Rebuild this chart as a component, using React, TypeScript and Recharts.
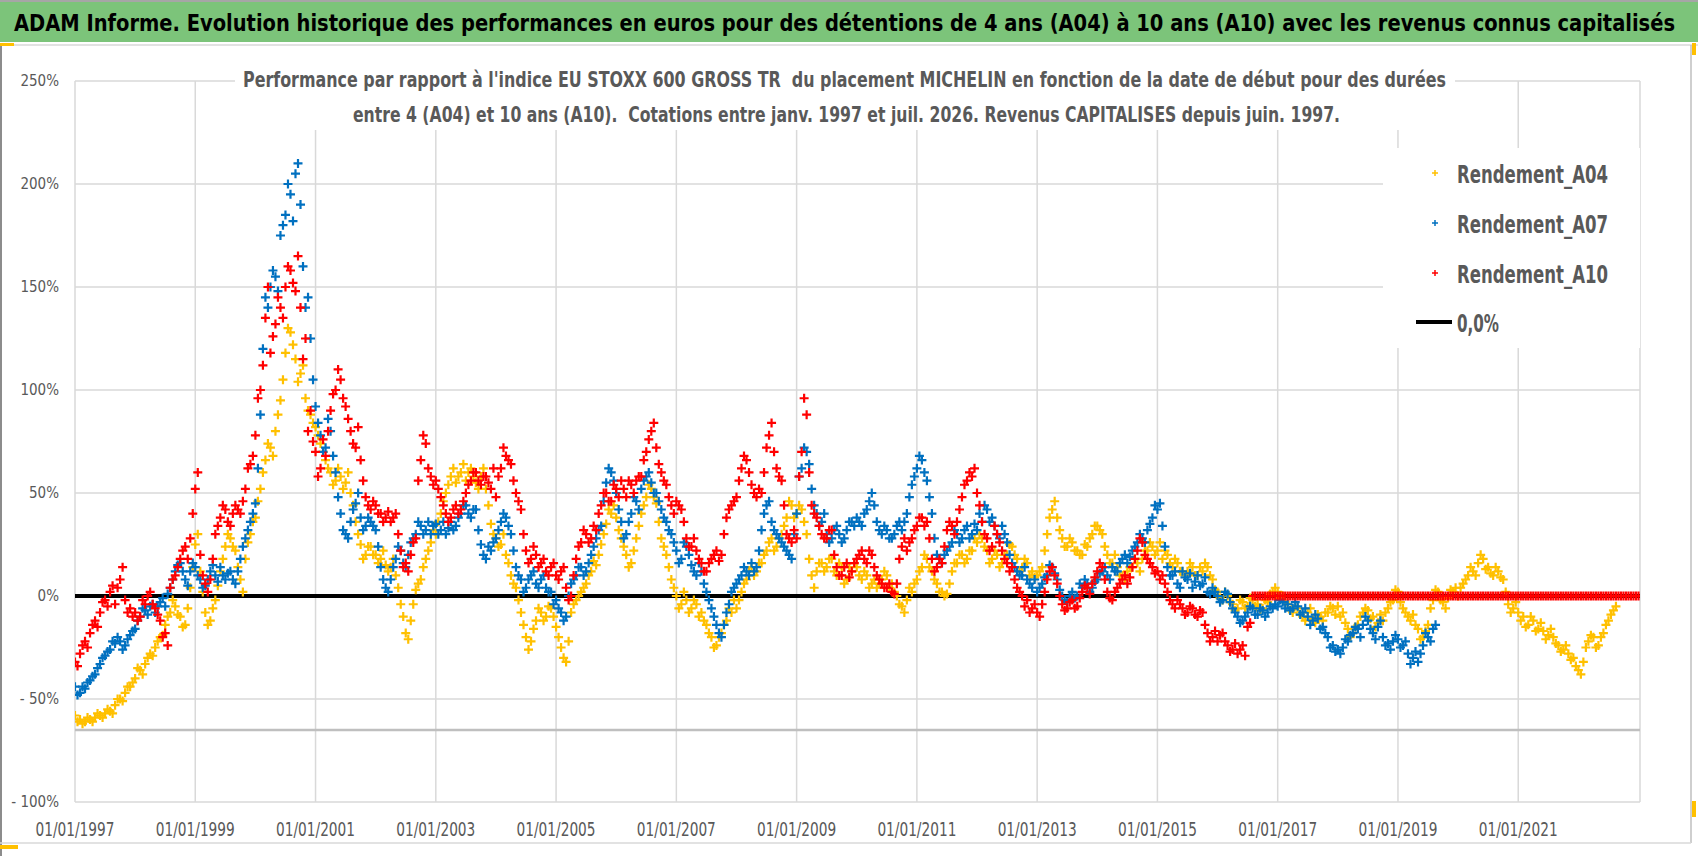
import React from 'react'
import { ComposedChart, Scatter, Line, XAxis, YAxis, CartesianGrid, ReferenceLine, Legend } from 'recharts'

// months counted from 01/01/1997 ; performance in %
// "a" arrays: reading at the start of each month, "b" arrays: reading at mid-month
const FIRST_YEAR = 1997

const a04: number[] = [
  -58, -60, -61, -60, -59, -58, -57, -56, -53, -50, -47, -44,
  -40, -36, -33, -28, -25, -20, -14, -8, -5, -10, -14, 4,
  25, 12, -8, -12, -2, 12, 24, 28, 22, 8, 18, 30,
  38, 52, 66, 72, 80, 95, 118, 128, 115, 108, 96, 88,
  82, 74, 66, 60, 56, 58, 55, 50, 36, 25, 20, 24,
  20, 18, 15, 14, 10, -4, -18, -12, 3, 8, 18, 26,
  30, 40, 50, 58, 55, 60, 56, 62, 55, 58, 52, 35,
  28, 25, 20, 10, 4, -8, -20, -22, -12, -8, -10, -6,
  -15, -25, -32, -8, -2, 2, 6, 12, 15, 25, 35, 40,
  38, 28, 20, 16, 28, 40, 48, 52, 45, 28, 20, 8,
  0, -4, -2, -6, -4, -8, -14, -20, -24, -18, -12, -8,
  -6, 2, 8, 14, 12, 16, 22, 28, 24, 30, 38, 44,
  40, 42, 30, 10, 12, 16, 14, 18, 10, 14, 8, 12,
  14, 8, 10, 6, 4, 8, 10, 6, 0, -5, -2, 2,
  8, 14, 18, 12, 6, 2, 1, 12, 16, 20, 18, 22,
  26, 28, 22, 18, 20, 16, 20, 24, 18, 14, 16, 12,
  10, 14, 30, 42, 38, 28, 24, 26, 22, 20, 24, 30,
  34, 30, 20, 16, 14, 10, 12, 14, 16, 18, 22, 24,
  22, 18, 20, 14, 16, 12, 12, 14, 10, 12, 14, 8,
  2, -2, 0, -4, -6, -3, -5, -2, -4, -6, -3, 2,
  2, 0, -4, -8, -6, -10, -8, -11, -9, -12, -8, -6,
  -5, -8, -16, -18, -14, -8, -7, -10, -13, -12, -6, -2,
  2, -6, -10, -9, -16, -20, -14, -2, 2, -3, -1, 2,
  0, 6, 10, 12, 16, 18, 14, 10, 12, 8, -4, -6,
  -8, -10, -14, -12, -16, -17, -19, -20, -24, -26, -28, -30,
  -36, -32, -22, -20, -24, -18, -12, -7,
]

const a04b: number[] = [
  -61, -62, -59, -61, -57, -59, -55, -57, -50, -51, -44, -42,
  -35, -38, -30, -29, -22, -19, -10, -2, -9, -15, -6, 14,
  30, 2, -14, -6, 5, 18, 30, 24, 14, 2, 26, 36,
  46, 60, 74, 68, 88, 105, 130, 122, 104, 112, 90, 84,
  78, 70, 62, 54, 62, 52, 60, 44, 30, 18, 24, 20,
  16, 22, 12, 18, 4, -10, -21, -4, 6, 14, 22, 32,
  36, 46, 54, 62, 58, 64, 60, 58, 52, 62, 44, 30,
  24, 30, 16, 6, -2, -14, -26, -16, -6, -12, -5, -10,
  -20, -30, -22, -4, 0, 4, 10, 17, 20, 30, 42, 44,
  32, 24, 14, 22, 34, 44, 54, 48, 36, 24, 14, 4,
  -6, 2, -8, -2, -10, -12, -18, -25, -20, -14, -6, -2,
  -2, 6, 12, 10, 16, 20, 26, 22, 28, 34, 46, 38,
  44, 36, 18, 4, 16, 12, 18, 12, 16, 6, 14, 16,
  10, 12, 4, 8, 6, 12, 4, 2, -4, -8, 4, 6,
  12, 20, 14, 8, 2, 0, 6, 16, 20, 16, 22, 28,
  30, 24, 16, 22, 14, 20, 25, 20, 12, 18, 10, 9,
  12, 22, 38, 46, 32, 24, 28, 22, 20, 25, 28, 34,
  32, 24, 16, 20, 10, 8, 14, 18, 12, 22, 26, 20,
  26, 22, 16, 18, 12, 10, 16, 10, 14, 16, 10, 3,
  -1, 2, -3, -7, -2, -6, -1, -5, -7, -2, 1, 4,
  -1, -3, -7, -5, -9, -12, -6, -13, -10, -8, -5, -9,
  -10, -13, -20, -15, -10, -6, -11, -15, -9, -8, -3, 3,
  -3, -8, -12, -14, -21, -17, -6, 3, -2, -6, 3, 4,
  4, 8, 14, 10, 20, 13, 11, 14, 9, 2, -8, -3,
  -12, -15, -10, -17, -13, -21, -16, -23, -27, -24, -31, -34,
  -38, -25, -19, -25, -20, -14, -9, -5,
]

const a07: number[] = [
  -44, -47, -45, -41, -38, -33, -29, -26, -23, -22, -24, -19,
  -16, -10, -7, -5, -8, -3, -5, 4, 12, 16, 8, 12,
  14, 8, 5, 12, 10, 14, 8, 12, 6, 18, 28, 36,
  45, 88, 145, 150, 155, 175, 185, 195, 205, 190, 140, 125,
  92, 78, 72, 80, 60, 40, 30, 36, 45, 38, 34, 36,
  32, 14, 4, 8, 18, 22, 14, 26, 30, 34, 32, 30,
  35, 32, 30, 36, 34, 40, 44, 38, 42, 25, 18, 22,
  28, 36, 38, 30, 14, 8, 4, 10, 6, 8, 4, 2,
  -2, -8, -10, 6, 10, 14, 12, 20, 28, 34, 55, 60,
  50, 36, 30, 40, 46, 52, 58, 55, 50, 42, 36, 30,
  22, 18, 24, 15, 10, 12, 2, -6, -14, -20, -8, 2,
  6, 10, 12, 16, 14, 32, 44, 36, 30, 26, 22, 18,
  40, 62, 70, 52, 40, 36, 30, 28, 34, 26, 32, 36,
  38, 34, 42, 50, 36, 30, 32, 28, 34, 32, 40, 54,
  62, 66, 56, 40, 20, 16, 22, 26, 30, 28, 34, 30,
  32, 36, 42, 38, 30, 34, 26, 16, 12, 10, 8, 4,
  2, 6, 10, 14, 8, 0, -3, 2, 0, 4, 6, 4,
  8, 12, 10, 14, 12, 18, 16, 22, 26, 28, 32, 38,
  42, 34, 14, 10, 6, 12, 8, 4, 10, 6, 2, 4,
  0, -2, 1, -6, -10, -12, -8, -6, -9, -7, -8, -6,
  -5, -3, -4, -6, -5, -8, -10, -12, -11, -15, -20, -24,
  -26, -25, -22, -18, -16, -14, -12, -18, -15, -20, -23, -22,
  -21, -24, -28, -30, -32, -24, -20, -16,
]

const a07b: number[] = [
  -48, -44, -42, -39, -35, -30, -27, -22, -20, -26, -21, -17,
  -12, -6, -9, -4, -5, -1, 1, 8, 15, 12, 5, 16,
  10, 4, 8, 15, 7, 10, 11, 8, 12, 24, 32, 40,
  62, 120, 140, 158, 148, 180, 200, 182, 210, 160, 145, 105,
  84, 70, 86, 68, 48, 32, 28, 42, 50, 32, 38, 34,
  24, 8, 2, 14, 24, 16, 20, 28, 36, 30, 36, 34,
  30, 36, 33, 32, 38, 44, 40, 42, 32, 20, 24, 26,
  32, 40, 34, 22, 10, 2, 8, 12, 4, 10, 2, -4,
  -6, -12, 0, 8, 14, 10, 16, 24, 32, 46, 62, 56,
  42, 28, 36, 48, 42, 56, 60, 50, 46, 38, 32, 26,
  16, 26, 20, 12, 16, 6, -2, -10, -18, -14, -4, 4,
  8, 14, 10, 12, 22, 40, 46, 32, 28, 24, 20, 30,
  58, 72, 64, 44, 34, 40, 26, 32, 30, 28, 36, 34,
  36, 40, 46, 44, 32, 34, 28, 30, 36, 36, 48, 58,
  68, 60, 48, 28, 18, 20, 24, 32, 26, 32, 28, 35,
  40, 44, 36, 34, 28, 30, 20, 14, 10, 14, 6, 8,
  4, 9, 15, 11, 3, -2, 0, -1, 6, 8, 2, 7,
  11, 14, 8, 12, 16, 20, 19, 24, 30, 26, 35, 44,
  45, 24, 10, 12, 4, 9, 11, 7, 5, 9, 1, 2,
  -3, 2, -3, -8, -13, -10, -5, -9, -6, -10, -5, -4,
  -2, -6, -7, -3, -9, -6, -14, -9, -16, -18, -25, -27,
  -28, -21, -19, -15, -20, -10, -16, -21, -12, -24, -26, -19,
  -25, -22, -33, -27, -28, -18, -22, -14,
]

const a10: number[] = [
  -32, -28, -22, -18, -12, -8, -2, 2, -4, 8, -2, -6,
  -8, -10, -4, 2, -6, -12, -18, 4, 10, 18, 24, 28,
  52, 20, 6, 8, 30, 38, 42, 34, 44, 40, 52, 64,
  78, 100, 135, 118, 132, 140, 150, 158, 148, 140, 125, 90,
  70, 62, 68, 90, 100, 105, 92, 80, 72, 66, 48, 42,
  44, 40, 38, 36, 40, 22, 16, 20, 28, 66, 74, 58,
  56, 48, 40, 38, 44, 42, 50, 56, 60, 54, 58, 52,
  48, 62, 68, 64, 50, 42, 22, 18, 20, 16, 12, 14,
  10, 12, 4, 0, 18, 26, 30, 28, 32, 44, 50, 46,
  52, 56, 48, 54, 56, 58, 70, 80, 72, 60, 54, 44,
  46, 42, 28, 24, 22, 16, 12, 18, 22, 20, 38, 44,
  48, 62, 66, 54, 48, 50, 72, 84, 62, 56, 30, 26,
  28, 70, 88, 44, 38, 30, 28, 32, 14, 10, 16, 12,
  18, 22, 16, 20, 10, 6, 4, 2, 6, 24, 22, 28,
  34, 38, 36, 18, 14, 16, 32, 34, 36, 48, 56, 58,
  50, 36, 28, 24, 30, 22, 16, 14, 4, 0, -2, -6,
  -8, -4, 8, 14, 6, -4, -6, -2, -5, 2, 4, 6,
  12, 14, 2, -2, 4, 8, 6, 14, 22, 26, 18, 14,
  12, 10, 2, -4, -2, -6, -8, -6, -10, -8, -18, -20,
  -22, -18, -24, -26, -28, -24, -15, 0, 0, 0, 0, 0,
  0, 0, 0, 0, 0, 0, 0, 0, 0, 0, 0, 0,
  0, 0, 0, 0, 0, 0, 0, 0, 0, 0, 0, 0,
  0, 0, 0, 0, 0, 0, 0, 0, 0, 0, 0, 0,
  0, 0, 0, 0, 0, 0, 0, 0, 0, 0, 0, 0,
  0, 0, 0, 0, 0, 0, 0, 0, 0, 0, 0, 0,
  0, 0, 0, 0, 0, 0, 0, 0, 0, 0, 0, 0,
  0,
]

const a10b: number[] = [
  -34, -24, -25, -14, -15, -3, -5, 5, 4, 14, -8, -10,
  -12, -2, 0, -4, -9, -20, -24, 8, 14, 22, 18, 40,
  60, 10, 2, 18, 34, 44, 36, 40, 42, 46, 62, 68,
  96, 112, 150, 126, 145, 135, 160, 152, 165, 115, 80, 75,
  58, 76, 80, 98, 110, 96, 86, 74, 82, 56, 44, 46,
  40, 36, 41, 38, 30, 14, 12, 26, 56, 78, 62, 54,
  52, 44, 36, 42, 40, 46, 54, 60, 56, 58, 55, 62,
  58, 72, 66, 56, 46, 30, 16, 24, 14, 18, 10, 16,
  8, 14, -2, 10, 24, 32, 26, 34, 40, 50, 46, 54,
  48, 52, 56, 50, 58, 66, 76, 84, 64, 56, 48, 40,
  44, 36, 24, 28, 18, 12, 16, 20, 17, 30, 42, 46,
  56, 68, 60, 50, 52, 60, 78, 70, 58, 44, 28, 32,
  58, 96, 60, 40, 34, 28, 32, 20, 10, 14, 9, 16,
  20, 18, 22, 14, 8, 4, 6, 1, 18, 28, 26, 32,
  38, 34, 28, 12, 18, 24, 36, 30, 42, 54, 60, 62,
  44, 30, 22, 34, 26, 18, 12, 8, 2, -5, -8, -4,
  -10, 2, 12, 10, 0, -7, -3, -6, -1, 5, 1, 9,
  16, 8, -1, 2, 6, 10, 9, 18, 28, 20, 16, 11,
  8, 6, -2, -6, -4, -9, -5, -9, -7, -14, -22, -17,
  -19, -22, -27, -23, -26, -29, -13, 0, 0, 0, 0, 0,
  0, 0, 0, 0, 0, 0, 0, 0, 0, 0, 0, 0,
  0, 0, 0, 0, 0, 0, 0, 0, 0, 0, 0, 0,
  0, 0, 0, 0, 0, 0, 0, 0, 0, 0, 0, 0,
  0, 0, 0, 0, 0, 0, 0, 0, 0, 0, 0, 0,
  0, 0, 0, 0, 0, 0, 0, 0, 0, 0, 0, 0,
  0, 0, 0, 0, 0, 0, 0, 0, 0, 0, 0, 0,
]

const X_END = 312.3
const xTicks = [0, 24, 48, 72, 96, 120, 144, 168, 192, 216, 240, 264, 288]
const yTicks = [-100, -50, 0, 50, 100, 150, 200, 250]

const TITLE = 'ADAM Informe. Evolution historique des performances en euros pour des détentions de 4 ans (A04) à 10 ans (A10) avec les revenus connus capitalisés'
const SUB1 = "Performance par rapport à l'indice EU STOXX 600 GROSS TR  du placement MICHELIN en fonction de la date de début pour des durées"
const SUB2 = 'entre 4 (A04) et 10 ans (A10).  Cotations entre janv. 1997 et juil. 2026. Revenus CAPITALISES depuis juin. 1997.'

const series = [
  { name: 'Rendement_A04', color: '#FFC000', start: a04, mid: a04b },
  { name: 'Rendement_A07', color: '#0070C0', start: a07, mid: a07b },
  { name: 'Rendement_A10', color: '#FF0000', start: a10, mid: a10b },
]

const zeroLine = [{ m: 0, v: 0 }, { m: X_END, v: 0 }]

const FONT = "'Liberation Sans Narrow', 'DejaVu Sans Condensed', 'Liberation Sans', sans-serif"
const GREY_TEXT = '#595959'

const toPoints = (start: number[], mid: number[]) => [
  ...start.map((v, m) => ({ m, v })),
  ...mid.map((v, m) => ({ m: m + 0.5, v })),
]

const fmtPct = (v: number) => (v < 0 ? `- ${-v}%` : `${v}%`)

const makeCross = (color: string) => (props: any) => {
  const { cx, cy } = props
  if (cx == null || cy == null) return <g />
  return <path d={`M${cx - 4.5},${cy}h9M${cx},${cy - 4.5}v9`} stroke={color} strokeWidth={2.2} fill='none' />
}

const XTick = ({ x, payload }: any) => (
  <text x={x} y={836} textAnchor='middle' fontSize={20} fill={GREY_TEXT} fontFamily={FONT}
    textLength={79} lengthAdjust='spacingAndGlyphs'>
    {`01/01/${FIRST_YEAR + payload.value / 12}`}
  </text>
)

const YTick = ({ y, payload }: any) => (
  <text x={59} y={y} dy={5} textAnchor='end' fontSize={15} fill={GREY_TEXT} fontFamily={FONT}>
    {fmtPct(payload.value)}
  </text>
)

function LegendBox() {
  const rows = [25, 75, 125]
  return (
    <svg width={310} height={200} style={{ display: 'block' }}>
      <rect x={0} y={0} width={257} height={200} fill='#fff' />
      {series.map((s, i) => (
        <g key={s.name}>
          <path d={`M${49},${rows[i]}h6M${52},${rows[i] - 3}v6`} stroke={s.color} strokeWidth={1.5} />
          <text x={74} y={rows[i] + 10} fontSize={24} fontWeight='bold' fill={GREY_TEXT} fontFamily={FONT}
            textLength={151} lengthAdjust='spacingAndGlyphs'>{s.name}</text>
        </g>
      ))}
      <line x1={33} x2={69} y1={174} y2={174} stroke='#000' strokeWidth={4} />
      <text x={74} y={184} fontSize={24} fontWeight='bold' fill={GREY_TEXT} fontFamily={FONT}
        textLength={42} lengthAdjust='spacingAndGlyphs'>0,0%</text>
    </svg>
  )
}

export default function App() {
  return (
    <div style={{ position: 'absolute', left: 0, top: 0, width: 1698, height: 856, background: '#fff', fontFamily: FONT }}>
      <ComposedChart width={1698} height={856} margin={{ top: 81, right: 58, bottom: 0, left: 15 }}>
        <CartesianGrid stroke='#d9d9d9' strokeWidth={1.5} />
        <XAxis dataKey='m' type='number' domain={[0, X_END]} ticks={xTicks} height={54}
          axisLine={false} tickLine={false} tick={<XTick />} interval={0} allowDataOverflow />
        <YAxis dataKey='v' type='number' domain={[-100, 250]} ticks={yTicks} width={60}
          axisLine={false} tickLine={false} tick={<YTick />} interval={0} allowDataOverflow />
        <ReferenceLine y={-65} stroke='#bfbfbf' strokeWidth={2.5} />
        <Line data={zeroLine} dataKey='v' stroke='#000' strokeWidth={4} dot={false} isAnimationActive={false} legendType='line' name='0,0%' />
        {series.map((s) => (
          <Scatter key={s.name} name={s.name} data={toPoints(s.start, s.mid)} dataKey='v' fill={s.color}
            shape={makeCross(s.color)} isAnimationActive={false} />
        ))}
        <Legend content={<LegendBox />} layout='horizontal' verticalAlign='middle' align='center'
          wrapperStyle={{ left: 1383, top: 148, width: 310, height: 200 }} />
      </ComposedChart>

      <svg width={1698} height={856} style={{ position: 'absolute', left: 0, top: 0, pointerEvents: 'none' }}>
        <rect x={0} y={0} width={1698} height={42} fill='#7cc47a' />
        <line x1={0} x2={1698} y1={1} y2={1} stroke='#a6a6a6' strokeWidth={2} />
        <line x1={0} x2={1698} y1={45} y2={45} stroke='#d9d9d9' strokeWidth={1.5} />
        <text transform='translate(14,31) scale(1,1.2)' x={0} y={0} fontSize={19} fontWeight='bold' fill='#000' fontFamily={FONT}
          textLength={1661} lengthAdjust='spacingAndGlyphs'>{TITLE}</text>

        <rect x={235} y={60} width={1220} height={70} fill='#fff' />
        <text x={243} y={87} fontSize={21} fontWeight='bold' fill={GREY_TEXT} fontFamily={FONT}
          textLength={1203} lengthAdjust='spacingAndGlyphs' style={{ whiteSpace: 'pre' }}>{SUB1}</text>
        <text x={353} y={122} fontSize={21} fontWeight='bold' fill={GREY_TEXT} fontFamily={FONT}
          textLength={987} lengthAdjust='spacingAndGlyphs' style={{ whiteSpace: 'pre' }}>{SUB2}</text>

        <line x1={1} x2={1} y1={45} y2={856} stroke='#8c8c8c' strokeWidth={2} />
        <line x1={1691} x2={1691} y1={45} y2={843} stroke='#bfbfbf' strokeWidth={1.5} />
        <line x1={0} x2={1691} y1={843} y2={843} stroke='#d9d9d9' strokeWidth={1.5} />
        <rect x={0} y={43} width={14} height={3} fill='#FFC000' />
        <rect x={0} y={845} width={18} height={4} fill='#FFC000' />
        <rect x={1692} y={43} width={4} height={12} fill='#FFC000' />
        <rect x={1692} y={801} width={4} height={16} fill='#FFC000' />
      </svg>
    </div>
  )
}
